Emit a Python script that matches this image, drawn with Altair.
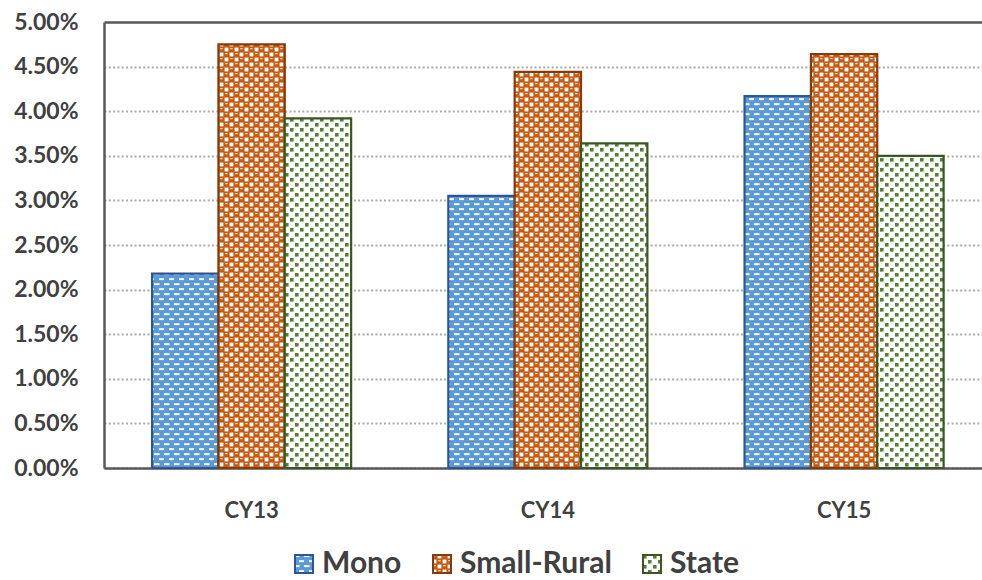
import altair as alt
import pandas as pd
import jinja2

# ---------------- data ----------------
years = ["CY13", "CY14", "CY15"]
series = ["Mono", "Small-Rural", "State"]
mono = [0.0218, 0.0305, 0.0417]
small_rural = [0.0475, 0.0444, 0.0464]
state = [0.0392, 0.0364, 0.0350]
y_ticks = [0.0, 0.005, 0.01, 0.015, 0.02, 0.025, 0.03, 0.035, 0.04, 0.045, 0.05]

rows = []
for i, yr in enumerate(years):
    for s, vals in zip(series, [mono, small_rural, state]):
        rows.append({"year": yr, "series": s, "value": vals[i]})
df = pd.DataFrame(rows)

# pattern fills (defined in the page) and border colours
fills = ["url(#pat-mono)", "url(#pat-sr)", "url(#pat-state)"]
strokes = ["#2f5597", "#843c0c", "#385723"]

TEXT = "#404040"
FONT = "Lato"

legend = alt.Legend(
    title=None,
    orient="none",
    legendX=185,
    legendY=527,
    direction="horizontal",
    symbolType="square",
    symbolSize=324,
    symbolStrokeWidth=2,
    labelFont=FONT,
    labelFontSize=30,
    labelFontWeight="bold",
    labelColor=TEXT,
    labelOffset=3,
    columnPadding=25,
    padding=0,
)

chart = (
    alt.Chart(df)
    .mark_bar(strokeWidth=2.2)
    .encode(
        x=alt.X(
            "year:N",
            sort=years,
            scale=alt.Scale(paddingInner=0.328, paddingOuter=0.1459, align=0.556),
            axis=alt.Axis(
                title=None,
                labelAngle=0,
                ticks=False,
                tickSize=0,
                labelPadding=32,
                labelFont=FONT,
                labelFontSize=22,
                labelFontWeight="bold",
                labelColor=TEXT,
                domainColor="#595959",
                domainWidth=2.5,
                grid=False,
            ),
        ),
        xOffset=alt.XOffset("series:N", sort=series),
        y=alt.Y(
            "value:Q",
            scale=alt.Scale(domain=[0, 0.05], nice=False),
            axis=alt.Axis(
                title=None,
                values=y_ticks,
                format=".2%",
                ticks=False,
                tickSize=0,
                labelPadding=26,
                labelFont=FONT,
                labelFontSize=23,
                labelFontWeight="bold",
                labelColor=TEXT,
                domainColor="#595959",
                domainWidth=2.5,
                grid=True,
                gridColor={"condition": {"test": "datum.value >= 0.0499", "value": "#595959"}, "value": "#aaaaaa"},
                gridWidth={"condition": {"test": "datum.value >= 0.0499", "value": 2.5}, "value": 2},
                gridDash={"condition": {"test": "datum.value >= 0.0499", "value": [10, 0]}, "value": [2, 2.3]},
            ),
        ),
        fill=alt.Fill("series:N", sort=series, scale=alt.Scale(domain=series, range=fills), legend=legend),
        stroke=alt.Stroke("series:N", sort=series, scale=alt.Scale(domain=series, range=strokes), legend=legend),
    )
    .properties(
        width=878,
        height=446,
        autosize=alt.AutoSizeParams(type="none"),
        padding={"left": 96, "top": 14, "right": 0, "bottom": 112},
    )
    .configure_view(stroke=None)
)

TEMPLATE = jinja2.Template("""<!DOCTYPE html>
<html>
<head>
  <style>
    html, body { overflow: hidden; }
    body { margin: 8px 0 0 8px; }
    #{{ output_div }}.vega-embed { width: 100%; display: flex; }
    #{{ output_div }}.vega-embed details,
    #{{ output_div }}.vega-embed details summary { position: relative; }
  </style>
  <script type="text/javascript" src="{{ base_url }}/vega@{{ vega_version }}"></script>
  <script type="text/javascript" src="{{ base_url }}/vega-lite@{{ vegalite_version }}"></script>
  <script type="text/javascript" src="{{ base_url }}/vega-embed@{{ vegaembed_version }}"></script>
</head>
<body>
  <svg width="0" height="0" style="position:absolute;left:0;top:0">
    <defs>
      <pattern id="pat-mono" patternUnits="userSpaceOnUse" width="10" height="10">
        <rect width="10" height="10" fill="#5b9bd5"/>
        <rect x="0" y="1.2" width="5.5" height="1.9" fill="#ffffff"/>
        <rect x="5" y="6.2" width="5.5" height="1.9" fill="#ffffff"/>
      </pattern>
      <pattern id="pat-sr" patternUnits="userSpaceOnUse" width="10" height="10">
        <rect width="10" height="10" fill="#c55a11"/>
        <rect x="5.6" y="0.6" width="3.8" height="3.8" fill="#ffffff"/>
        <rect x="0.6" y="5.6" width="3.8" height="3.8" fill="#ffffff"/>
        <rect x="1.2" y="1.2" width="2.4" height="1" fill="#ffffff"/>
        <rect x="6.2" y="6.2" width="2.4" height="1" fill="#ffffff"/>
      </pattern>
      <pattern id="pat-state" patternUnits="userSpaceOnUse" width="10" height="10">
        <rect width="10" height="10" fill="#ffffff"/>
        <rect x="1" y="1" width="3.6" height="3.6" fill="#548235"/>
        <rect x="6" y="6" width="3.6" height="3.6" fill="#548235"/>
      </pattern>
    </defs>
  </svg>
  <div id="{{ output_div }}"></div>
  <script type="text/javascript">
    (function(vegaEmbed) {
      var spec = {{ spec }};
      var embedOpt = {{ embed_options }};
      function showError(el, error){
        el.innerHTML = ('<div style="color:red;"><p>JavaScript Error: ' + error.message + '</p></div>');
        throw error;
      }
      const el = document.getElementById('{{ output_div }}');
      vegaEmbed("#{{ output_div }}", spec, embedOpt).catch(error => showError(el, error));
    })(vegaEmbed);
  </script>
</body>
</html>
""")

try:
    chart.save("out.html", embed_options={"renderer": "svg", "actions": False}, template=TEMPLATE)
except Exception:
    chart.save("out.html", embed_options={"renderer": "svg", "actions": False})
